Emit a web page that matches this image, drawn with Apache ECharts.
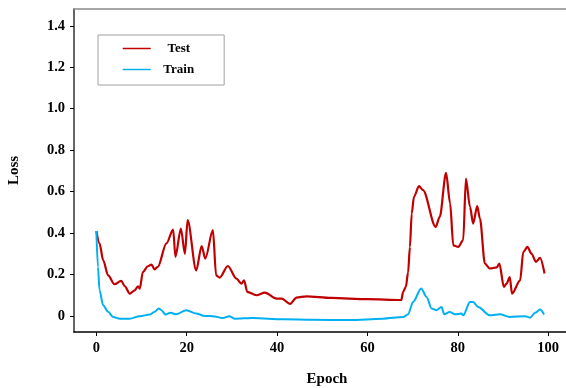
<!DOCTYPE html>
<html>
<head>
<meta charset="utf-8">
<script src="https://cdn.jsdelivr.net/npm/echarts@6/dist/echarts.min.js"></script>
<style>
  html, body { margin: 0; padding: 0; background: #fff; }
  #chart { width: 566px; height: 388px; }
</style>
</head>
<body>
<div id="chart"></div>
<script>
(function() {
  // epochs and losses
  const testEpoch = [0, 0.7, 1.5, 2.6, 4, 5.5, 6.3, 7.4, 8.5, 9.2, 9.6, 10.3, 11.4, 12.2, 12.9, 13.6,
    15.5, 17, 17.5, 18.7, 19.6, 20.2, 22.1, 23.3, 24.1, 25.8, 26.5, 27.3, 29.1, 31, 32.1, 32.7, 33.4,
    35.4, 37.3, 39.9, 41, 42.9, 44.3, 46.5, 52, 60, 67.5, 67.9, 68.5, 69, 69.4, 69.8, 70.3, 71.4,
    72.3, 75.1, 76, 77.4, 78.3, 79, 80.1, 81.2, 81.8, 82.7, 83.4, 84.3, 84.9, 86, 87.1, 88.6, 89.2,
    90.2, 90.8, 91.5, 92, 93.8, 94.5, 95.4, 96.3, 97.3, 98.2, 99.2];
  const testLoss = [0.41, 0.35, 0.27, 0.196, 0.153, 0.169, 0.143, 0.108, 0.124, 0.143, 0.132, 0.212,
    0.24, 0.248, 0.225, 0.237, 0.35, 0.417, 0.285, 0.422, 0.30, 0.462, 0.22, 0.337, 0.277, 0.414,
    0.196, 0.185, 0.241, 0.18, 0.156, 0.172, 0.116, 0.1, 0.113, 0.084, 0.084, 0.058, 0.089, 0.095,
    0.087, 0.081, 0.077, 0.116, 0.14, 0.21, 0.333, 0.494, 0.575, 0.626, 0.607, 0.43, 0.478, 0.69,
    0.543, 0.341, 0.333, 0.366, 0.663, 0.526, 0.446, 0.53, 0.47, 0.253, 0.229, 0.234, 0.253, 0.14,
    0.156, 0.188, 0.108, 0.172, 0.309, 0.333, 0.301, 0.261, 0.28, 0.205];

  const trainEpoch = [0, 0.35, 0.7, 1.5, 2.6, 3.7, 5.2, 7.4, 9.6, 11.8, 12.9, 13.8, 14.4, 15.3, 16.4,
    17.6, 19.9, 22.1, 24, 25.8, 28, 29.4, 30.6, 34.7, 41.3, 48, 56, 63.4, 67.9, 69, 70.1, 71.9, 73.1,
    74.2, 75.3, 76.4, 77, 78.2, 79.4, 80.8, 81.2, 82.7, 83.4, 84.5, 87.1, 89.3, 91.5, 94.9, 96, 97.1,
    98.2, 99.1];
  const trainLoss = [0.41, 0.237, 0.124, 0.052, 0.02, -0.005, -0.013, -0.013, -0.001, 0.007, 0.02,
    0.036, 0.028, 0.007, 0.016, 0.008, 0.028, 0.012, 0, -0.001, -0.01, -0.001, -0.013, -0.01, -0.016,
    -0.018, -0.02, -0.013, -0.005, 0.008, 0.068, 0.132, 0.092, 0.036, 0.028, 0.043, 0.008, 0.019,
    0.008, 0.012, 0.003, 0.068, 0.068, 0.043, 0.003, 0.008, -0.005, -0.001, -0.008, 0.015, 0.031, 0.007];

  const xTicks = [0, 20, 40, 60, 80, 100];
  const yTicks = [0, 0.2, 0.4, 0.6, 0.8, 1.0, 1.2, 1.4];

  const font = 'Liberation Serif';

  function pairs(xs, ys) {
    return xs.map(function(x, i) { return [x, ys[i]]; });
  }

  const chart = echarts.init(document.getElementById('chart'), null, { renderer: 'canvas' });
  const option = {
    animation: false,
    backgroundColor: '#fff',
    grid: { left: 74, top: 9, right: 0, bottom: 56, outerBoundsMode: 'none', containLabel: false },
    legend: {
      orient: 'vertical',
      left: 98,
      top: 35,
      itemWidth: 28,
      itemHeight: 14,
      itemGap: 8,
      padding: [7, 30, 9, 24],
      borderColor: '#a0a0a0',
      borderWidth: 1,
      itemStyle: { opacity: 0 },
      lineStyle: { width: 1.5 },
      data: ['Test', 'Train'],
      formatter: '{c|{name}}',
      textStyle: {
        rich: {
          c: { width: 46, align: 'center', fontFamily: font, fontWeight: 'bold', fontSize: 13, color: '#000' }
        }
      }
    },
    xAxis: [
      {
        type: 'value',
        min: -4.95,
        max: 103.95,
        name: 'Epoch',
        nameLocation: 'middle',
        nameGap: 40,
        nameTextStyle: { fontFamily: font, fontWeight: 'bold', fontSize: 15, color: '#000', padding: [0, 0, 0, 14] },
        splitLine: { show: false },
        axisLine: { onZero: false, lineStyle: { color: '#000', width: 1.5 } },
        axisTick: { customValues: xTicks, length: 4, lineStyle: { color: '#000' } },
        axisLabel: {
          customValues: xTicks,
          margin: 9,
          fontFamily: font, fontWeight: 'bold', fontSize: 14.5, color: '#000'
        }
      },
      {
        type: 'value',
        position: 'top',
        min: -4.95,
        max: 103.95,
        splitLine: { show: false },
        axisLine: { show: true, onZero: false, lineStyle: { color: '#8a8a8a', width: 1.5 } },
        axisTick: { show: false },
        axisLabel: { show: false }
      }
    ],
    yAxis: {
      type: 'value',
      min: -0.0773,
      max: 1.481,
      name: 'Loss',
      nameLocation: 'middle',
      nameGap: 52,
      nameTextStyle: { fontFamily: font, fontWeight: 'bold', fontSize: 15, color: '#000' },
      splitLine: { show: false },
      axisLine: { show: true, onZero: false, lineStyle: { color: '#333', width: 1.5 } },
      axisTick: { show: true, customValues: yTicks, length: 4, lineStyle: { color: '#000' } },
      axisLabel: {
        customValues: yTicks,
        margin: 9,
        fontFamily: font, fontWeight: 'bold', fontSize: 14.5, color: '#000',
        formatter: function(v) { return v === 0 ? '0' : v.toFixed(1); }
      }
    },
    series: [
      {
        name: 'Test',
        type: 'line',
        data: pairs(testEpoch, testLoss),
        symbol: 'none',
        smooth: 0.3,
        smoothMonotone: 'x',
        lineStyle: { color: '#c00000', width: 2.2 },
        itemStyle: { color: '#c00000' }
      },
      {
        name: 'Train',
        type: 'line',
        data: pairs(trainEpoch, trainLoss),
        symbol: 'none',
        smooth: 0.3,
        smoothMonotone: 'x',
        lineStyle: { color: '#00b0f0', width: 2 },
        itemStyle: { color: '#00b0f0' }
      }
    ]
  };
  chart.setOption(option);
}());
</script>
</body>
</html>
